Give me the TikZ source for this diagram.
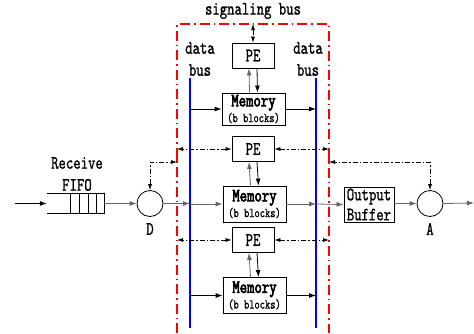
\documentclass[tikz,border=0pt]{standalone}
\usepackage{fontspec}
\usetikzlibrary{arrows.meta}
\newfontfamily\labfont{lmmono10-regular.otf}[FakeStretch=0.74,FakeBold=1]
\newfontfamily\labbold{lmmono10-regular.otf}[FakeStretch=0.74,FakeBold=3]

\tikzset{
  lab/.style={font=\fontsize{19}{19}\selectfont\labfont, inner sep=0pt, align=center},
  box/.style={draw, line width=0.8pt, fill=white, inner sep=0pt, align=center},
  pebox/.style={box, minimum width=42pt, minimum height=25pt, font=\fontsize{19}{19}\selectfont\labfont},
  membox/.style={box, minimum width=63pt, minimum height=36pt},
  circ/.style={draw, circle, line width=0.8pt, minimum size=26pt, inner sep=0pt},
  databus/.style={blue, line width=2pt},
  ctrlbus/.style={red, line width=1.6pt, dash pattern=on 10pt off 4pt on 1.5pt off 4pt},
  sig/.style={line width=0.7pt, dash pattern=on 5pt off 2pt on 1.5pt off 2pt,
              {Latex[length=6pt,width=4pt]}-{Latex[length=6pt,width=4pt]}},
  flow/.style={line width=0.8pt, -{Latex[length=7pt,width=5pt]}},
  gflow/.style={flow, black!60},
}
\newcommand{\memtext}{{\fontsize{19}{19}\selectfont\labbold Memory}\\[1pt]{\fontsize{13.5}{13.5}\selectfont\labfont (b blocks)}}

\begin{document}
\begin{tikzpicture}[x=1pt,y=-1pt]
\useasboundingbox (0,0) rectangle (474,333);

% bus reference coordinates
\coordinate (lbus) at (190,0);
\coordinate (rbus) at (316,0);
\coordinate (lred) at (177,0);
\coordinate (rred) at (329,0);
\coordinate (sigtop) at (253,24);
\coordinate (dfb) at (177,162);
\coordinate (afb) at (329,162);
\coordinate (in) at (15,203.5);
\coordinate (out) at (474,203);

% signalling bus (red frame)
\draw[ctrlbus] (177,333) -- (177,24) -- (329,24) -- (329,333);
\draw[red, line width=1.6pt] (177,148) -- (177,162);
\draw[red, line width=1.6pt] (329,148) -- (329,162);
\node[lab] (sigl) at (253,11) {signaling bus};

% data buses
\draw[databus] (190,78) -- (190,328);
\draw[databus] (316,78) -- (316,328);
\node[lab] (dbl) at (200,59) {data\\[3pt]bus};
\node[lab] (dbr) at (308,59) {data\\[3pt]bus};

% processing elements and memories
\node[pebox] (pe1) at (253,55.5) {PE};
\node[membox, minimum height=32pt] (mem1) at (253.5,109) {\memtext};
\node[pebox] (pe2) at (253,149) {PE};
\node[membox] (mem2) at (254.5,204) {\memtext};
\node[pebox] (pe3) at (253,240) {PE};
\node[membox] (mem3) at (254.5,295.5) {\memtext};

% PE <-> memory links
\foreach \p/\m in {pe1/mem1, pe2/mem2, pe3/mem3} {
  \draw[gflow] ([xshift=-4pt]\m.north) -- ([xshift=-4pt]\p.south);
  \draw[flow] ([xshift=4pt]\p.south) -- ([xshift=4pt]\m.north);
}

% signalling connections
\draw[sig] (sigtop) -- (pe1.north);
\draw[sig] (pe2.west) -- (pe2.west -| lred);
\draw[sig] (pe2.east) -- (pe2.east -| rred);
\draw[sig] (pe3.west) -- (pe3.west -| lred);
\draw[sig] (pe3.east) -- (pe3.east -| rred);

% receive FIFO
\node[minimum width=57pt, minimum height=19pt, inner sep=0pt] (fifo) at (75.5,203.5) {};
\draw[line width=0.8pt] (fifo.north west) -- (fifo.north east) -- (fifo.south east) -- (fifo.south west);
\foreach \x in {70,79,88,96} \draw[line width=0.8pt] (\x,194) -- (\x,213);
\node[lab] (fifol) at (77,174) {Receive\\[3pt]FIFO};

% demultiplexer and aggregator
\node[circ] (dn) at (150,203.5) {};
\node[lab] (dl) at (150,229) {D};
\node[circ] (an) at (430,203.5) {};
\node[lab] (al) at (430,229) {A};

\node[box, minimum width=50pt, minimum height=35pt, font=\fontsize{19}{19}\selectfont\labfont] (ob) at (369,204.5) {Output\\[1pt]Buffer};

% main data path
\draw[flow] (in) -- (fifo.west);
\draw[gflow] (fifo.east) -- (dn.west);
\draw[gflow] (dn.east) -- (dn.east -| lbus);
\draw[gflow] (mem2.west -| lbus) -- (mem2.west);
\draw[gflow] (mem2.east) -- (mem2.east -| rbus);
\draw[gflow] (mem2.east -| rbus) -- (ob.west);
\draw[gflow] (ob.east |- an.west) -- (an.west);
\draw[gflow] (an.east) -- (out);

% upper and lower rows
\draw[flow] (mem1.west -| lbus) -- (mem1.west);
\draw[flow] (mem1.east) -- (mem1.east -| rbus);
\draw[flow] (mem3.west -| lbus) -- (mem3.west);
\draw[flow] (mem3.east) -- (mem3.east -| rbus);

% feedback to the signalling bus
\draw[sig] (dn.north) |- (dfb);
\draw[sig] (an.north) |- (afb);
\end{tikzpicture}
\end{document}
